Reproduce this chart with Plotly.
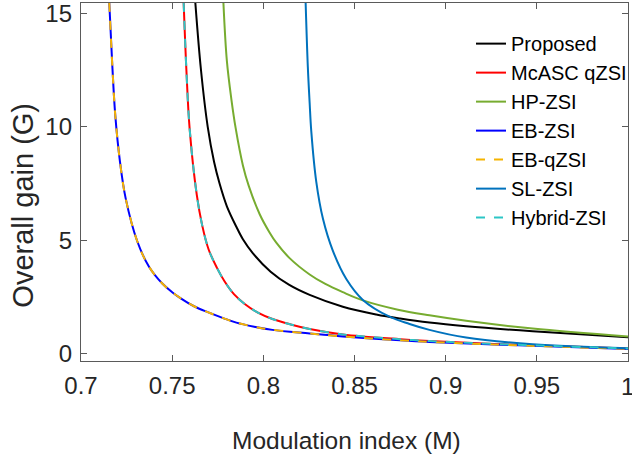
import plotly.graph_objects as go

# ---- data ----
eb_m = [0.7155, 0.7172, 0.7188, 0.7214, 0.7245, 0.7309, 0.7373, 0.7446, 0.7500, 0.7547,
        0.7620, 0.7695, 0.7780, 0.7852, 0.7950, 0.8050, 0.8254, 0.8436, 0.8750, 0.8911,
        0.9400, 1.0]
eb_gain = [15.47, 12.65, 10.5, 8.45, 6.85, 4.95, 3.84, 3.1, 2.72, 2.45,
           2.1, 1.84, 1.58, 1.38, 1.2, 1.06, 0.9, 0.77, 0.6, 0.53,
           0.38, 0.22]

mcasc_m = [0.7563, 0.7578, 0.7596, 0.7635, 0.7665, 0.7700, 0.7745, 0.7787, 0.7840, 0.7898,
           0.7970, 0.8050, 0.8150, 0.8254, 0.8436, 0.8750, 0.8911, 0.9400, 1.0]
mcasc_gain = [15.47, 12.5, 9.9, 7.0, 5.65, 4.6, 3.8, 3.2, 2.62, 2.2,
              1.82, 1.54, 1.3, 1.1, 0.86, 0.65, 0.57, 0.40, 0.24]

prop_m = [0.7627, 0.7658, 0.7695, 0.7730, 0.7760, 0.7800, 0.7852, 0.7888, 0.7943, 0.8040,
          0.8140, 0.8254, 0.8436, 0.8619, 0.8750, 0.8911, 0.9112, 0.9477, 1.0]
prop_gain = [15.47, 12.5, 10.0, 8.45, 7.5, 6.5, 5.6, 5.05, 4.43, 3.62,
             3.05, 2.60, 2.08, 1.74, 1.56, 1.38, 1.22, 1.0, 0.74]

hp_m = [0.7781, 0.7800, 0.7825, 0.7848, 0.7888, 0.7920, 0.7980, 0.8034, 0.8071, 0.8144,
        0.8254, 0.8340, 0.8436, 0.8546, 0.8738, 0.8911, 0.9112, 0.9477, 1.0]
hp_gain = [15.47, 12.9, 11.2, 9.95, 8.3, 7.4, 6.15, 5.35, 4.9, 4.22,
           3.5, 3.08, 2.72, 2.36, 1.95, 1.70, 1.46, 1.12, 0.77]

sl_m = [0.8232, 0.8244, 0.8254, 0.8263, 0.8290, 0.8327, 0.8381, 0.8455, 0.8546, 0.8692,
        0.8802, 0.8911, 0.9112, 0.9477, 1.0]
sl_gain = [15.47, 12.65, 11.05, 9.8, 7.6, 5.95, 4.55, 3.3, 2.38, 1.64,
           1.32, 1.06, 0.72, 0.43, 0.25]

x_ticks = [0.7, 0.75, 0.8, 0.85, 0.9, 0.95, 1.0]
x_tick_labels = ["0.7", "0.75", "0.8", "0.85", "0.9", "0.95", ""]
x_last_label = "1"
y_ticks = [0, 5, 10, 15]
y_tick_labels = ["0", "5", "10", "15"]

FONT = "Liberation Sans, Arial, sans-serif"
TICK_FONT = dict(family=FONT, size=24, color="#262626")

series = [
    ("Proposed", prop_m, prop_gain, "#000000", "solid"),
    ("McASC qZSI", mcasc_m, mcasc_gain, "#FF0000", "solid"),
    ("HP-ZSI", hp_m, hp_gain, "#77AC30", "solid"),
    ("EB-ZSI", eb_m, eb_gain, "#0000FF", "solid"),
    ("EB-qZSI", eb_m, eb_gain, "#F5B400", "dash"),
    ("SL-ZSI", sl_m, sl_gain, "#0072BD", "solid"),
    ("Hybrid-ZSI", mcasc_m, mcasc_gain, "#2CC6C6", "dash"),
]

fig = go.Figure()
for name, xs, ys, color, dash in series:
    fig.add_trace(go.Scatter(
        x=xs, y=ys, mode="lines", name=name,
        line=dict(color=color, width=2, dash=dash, shape="spline", smoothing=1.0),
    ))

axis_common = dict(
    showline=True, linecolor="#5a5a5a", linewidth=1.3, mirror="ticks",
    ticks="inside", ticklen=6, tickcolor="#5a5a5a", tickwidth=1,
    showgrid=False, zeroline=False, ticklabeloverflow="allow", automargin=False,
    tickfont=TICK_FONT,
)

fig.update_xaxes(range=[0.7, 1.0], tickvals=x_ticks, ticktext=x_tick_labels,
                 ticklabelstandoff=3, **axis_common)
fig.update_yaxes(range=[-0.31, 15.45], tickvals=y_ticks, ticktext=y_tick_labels,
                 ticklabelstandoff=3, **axis_common)

fig.update_layout(
    width=632, height=461,
    margin=dict(l=81, r=4, t=3, b=100, autoexpand=False),
    paper_bgcolor="white", plot_bgcolor="white",
    showlegend=True,
    legend=dict(
        x=0.713, y=0.941, xanchor="left", yanchor="top",
        bgcolor="rgba(0,0,0,0)", borderwidth=0,
        font=dict(family=FONT, size=20, color="#000000"),
    ),
    annotations=[
        dict(text=x_last_label, xref="paper", yref="paper",
             x=0.9982, y=-0.0705, xanchor="center", yanchor="middle", showarrow=False,
             font=TICK_FONT),
        dict(text="Modulation index (M)", xref="paper", yref="paper",
             x=0.4845, y=-0.2207, xanchor="center", yanchor="middle", showarrow=False,
             font=dict(family=FONT, size=24.5, color="#262626")),
        dict(text="Overall gain (G)", xref="paper", yref="paper",
             x=-0.106, y=0.434, xanchor="center", yanchor="middle", showarrow=False,
             textangle=-90,
             font=dict(family=FONT, size=29, color="#262626")),
    ],
)

fig.write_html(
    "out.html",
    config={"displayModeBar": False},
    post_script="document.body.style.margin='0px';"
                "document.documentElement.style.overflow='hidden';",
)
